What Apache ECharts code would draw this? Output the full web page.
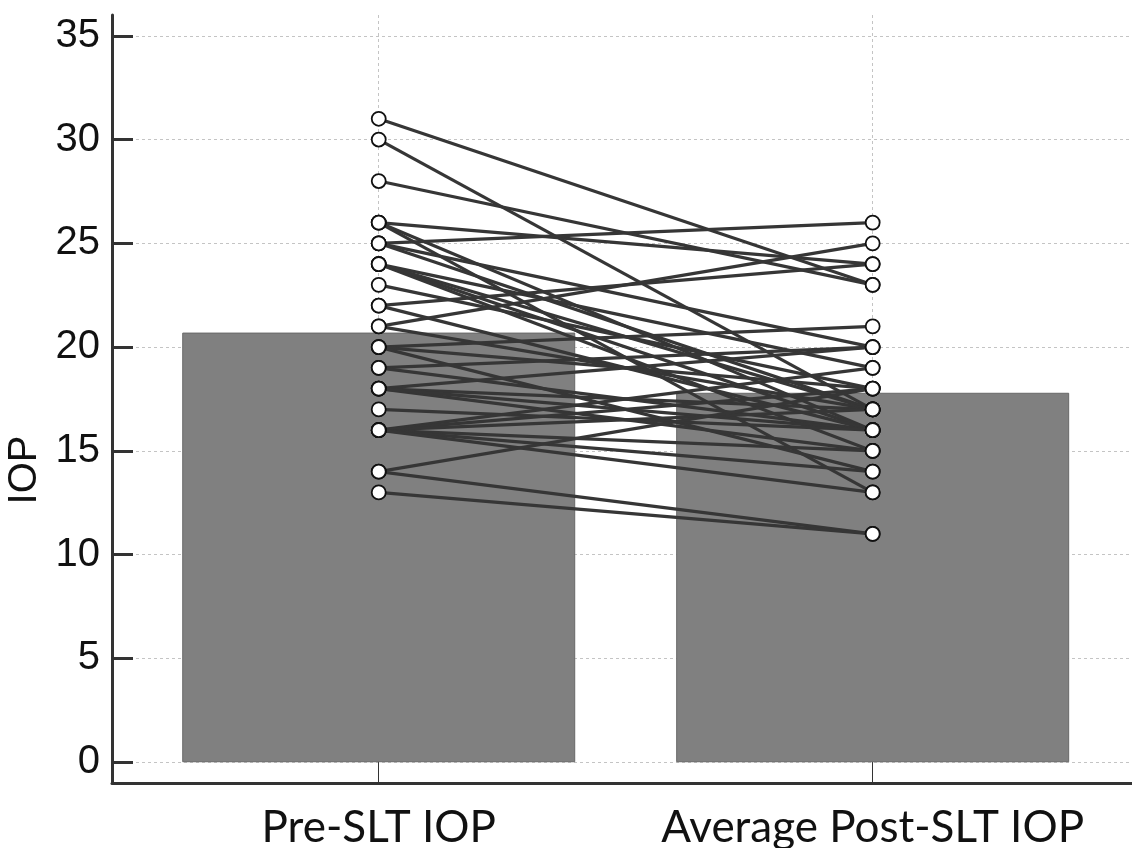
<!DOCTYPE html>
<html><head><meta charset="utf-8">
<script src="https://cdn.jsdelivr.net/npm/echarts@6/dist/echarts.min.js"></script>
<style>html,body{margin:0;padding:0;background:#fff}#c{width:1132px;height:848px}</style>
</head><body><div id="c"></div>
<script>
const categories = ['Pre-SLT IOP', 'Average Post-SLT IOP'];
const barValues = [20.7, 17.8];
const preIOP  = [31, 30, 28, 26, 26, 26, 25, 25, 25, 24, 24, 24, 24, 23, 22, 22, 21, 21, 20, 20, 20, 19, 19, 18, 18, 18, 18, 17, 16, 16, 16, 16, 16, 16, 14, 14, 13];
const postIOP = [23, 17, 23, 24, 16, 13, 26, 20, 17, 19, 16, 15, 17, 18, 24, 16, 25, 17, 21, 18, 14, 20, 16, 20, 17, 15, 16, 16, 19, 18, 17, 15, 14, 13, 18, 11, 11];
const yTicks = [0, 5, 10, 15, 20, 25, 30, 35];
const xTicks = [1, 2];

const chart = echarts.init(document.getElementById('c'), null, {renderer: 'canvas'});

const lineSeries = preIOP.map((p, i) => ({
  type: 'line',
  data: [[xTicks[0], p], [xTicks[1], postIOP[i]]],
  showSymbol: false,
  symbol: 'none',
  lineStyle: {color: '#363636', width: 3.2},
  z: 3,
  silent: true,
  animation: false
}));

const points = [];
preIOP.forEach((p, i) => { points.push([xTicks[0], p]); points.push([xTicks[1], postIOP[i]]); });

const grey = '#c4c4c4';
chart.setOption({
  animation: false,
  grid: {left: 112, right: 0, top: 15, bottom: 65, containLabel: false, outerBoundsMode: 'none'},
  xAxis: {
    type: 'value', min: 0.46, max: 2.525,
    axisLine: {show: true, onZero: false, lineStyle: {color: '#333', width: 3}},
    axisTick: {show: true, inside: true, length: 21, customValues: xTicks, lineStyle: {color: '#333', width: 1}},
    axisLabel: {customValues: xTicks, margin: 23, fontFamily: 'Lato', fontSize: 44, color: '#111',
      formatter: v => categories[Math.round(v) - 1] || ''},
    splitLine: {show: true, lineStyle: {color: grey, type: [3, 3], width: 1}}
  },
  yAxis: {
    type: 'value', min: -1, max: 36,
    name: 'IOP', nameLocation: 'middle', nameGap: 59,
    nameTextStyle: {fontFamily: 'Liberation Sans', fontSize: 40, color: '#111', padding: [0, 142, 0, 0]},
    axisLine: {show: true, onZero: false, lineStyle: {color: '#333', width: 3}},
    axisTick: {show: true, inside: true, length: 21, customValues: yTicks, lineStyle: {color: '#333', width: 3}},
    axisLabel: {customValues: yTicks, margin: 12, fontFamily: 'Liberation Sans', fontSize: 40, color: '#111'},
    splitLine: {show: true, lineStyle: {color: grey, type: [3, 3], width: 1}}
  },
  series: [
    {
      type: 'bar',
      data: barValues.map((v, i) => [xTicks[i], v]),
      barWidth: 393,
      itemStyle: {color: '#808080', borderColor: '#686868', borderWidth: 1},
      z: 2, silent: true
    },
    ...lineSeries,
    {
      type: 'scatter',
      data: points,
      symbol: 'circle', symbolSize: 14,
      itemStyle: {color: '#ffffff', borderColor: '#111', borderWidth: 1.8, opacity: 1},
      z: 5, silent: true
    }
  ]
});
</script></body></html>
